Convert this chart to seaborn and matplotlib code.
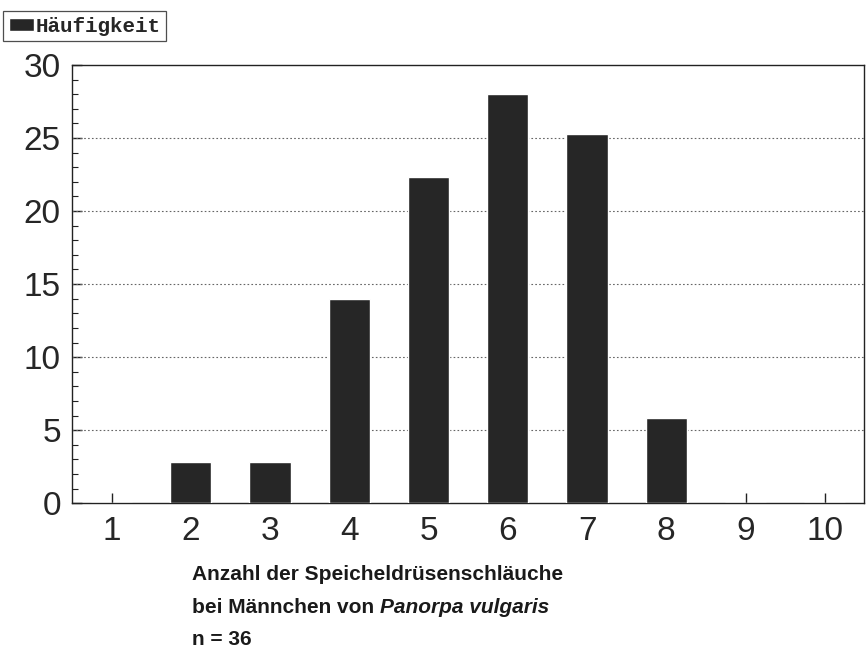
import matplotlib
matplotlib.use("Agg")
import matplotlib.pyplot as plt
from matplotlib.ticker import MultipleLocator
import seaborn as sns
import pandas as pd

# Anzahl der Speicheldrüsenschläuche (Kategorie) und Häufigkeit in %
anzahl = ["1", "2", "3", "4", "5", "6", "7", "8", "9", "10"]
haeufigkeit = [0, 2.8, 2.8, 14.0, 22.3, 28.0, 25.3, 5.8, 0, 0]
y_ticks = [0, 5, 10, 15, 20, 25, 30]

df = pd.DataFrame({"anzahl": anzahl, "haeufigkeit": haeufigkeit})

sns.set_style("white")
plt.rcParams["font.family"] = ["Liberation Sans", "DejaVu Sans"]

fig = plt.figure(figsize=(8.67, 6.7), dpi=100)
ax = fig.add_axes([0.083, 0.249, 0.914, 0.654])

sns.barplot(data=df, x="anzahl", y="haeufigkeit", color="#262626",
            width=0.52, saturation=1, ax=ax, label="Häufigkeit", zorder=3,
            legend=False)
if ax.get_legend() is not None:
    ax.get_legend().remove()

ax.set_xlim(-0.5, 9.5)
ax.set_ylim(0, 30)
ax.set_yticks(y_ticks)
ax.yaxis.set_minor_locator(MultipleLocator(1))
ax.set_xlabel("")
ax.set_ylabel("")

# dotted grid lines at the inner major ticks
for v in y_ticks[1:-1]:
    ax.axhline(v, color="#666666", lw=0.8, ls=(0, (1.5, 2)), zorder=1)

ax.tick_params(axis="both", which="major", direction="in", length=7,
               width=1, labelsize=24, color="#222222", bottom=True, left=True)
ax.tick_params(axis="y", which="minor", direction="in", length=4, width=0.8,
               color="#222222", left=True)
ax.tick_params(axis="x", pad=9)
ax.tick_params(axis="y", pad=8)
for s in ax.spines.values():
    s.set_color("#222222")
    s.set_linewidth(1.0)

# legend box top left
handles, labels = ax.get_legend_handles_labels()
leg = fig.legend(handles[:1], labels[:1], loc="upper left",
                 bbox_to_anchor=(0.004, 0.983),
                 frameon=True, fancybox=False, handlelength=1.2,
                 handleheight=0.6, handletextpad=0.1, borderpad=0.25,
                 borderaxespad=0,
                 prop={"family": "Liberation Mono", "weight": "bold",
                       "size": 15})
leg.get_frame().set_edgecolor("#222222")
leg.get_frame().set_linewidth(0.9)

# x axis caption, three lines, species name in bold italic
x0 = 0.222
fs = 15
fig.text(x0, 0.142, "Anzahl der Speicheldrüsenschläuche", fontsize=fs,
         fontweight="bold", color="#1a1a1a", va="center", ha="left")
t = fig.text(x0, 0.094, "bei Männchen von ", fontsize=fs,
             fontweight="bold", color="#1a1a1a", va="center", ha="left")
fig.canvas.draw()
bb = t.get_window_extent().transformed(fig.transFigure.inverted())
fig.text(bb.x1, 0.094, "Panorpa vulgaris", fontsize=fs, fontweight="bold",
         fontstyle="italic", color="#1a1a1a", va="center", ha="left")
fig.text(x0, 0.046, "n = 36", fontsize=fs, fontweight="bold",
         color="#1a1a1a", va="center", ha="left")

fig.savefig("out.png", dpi=100)
